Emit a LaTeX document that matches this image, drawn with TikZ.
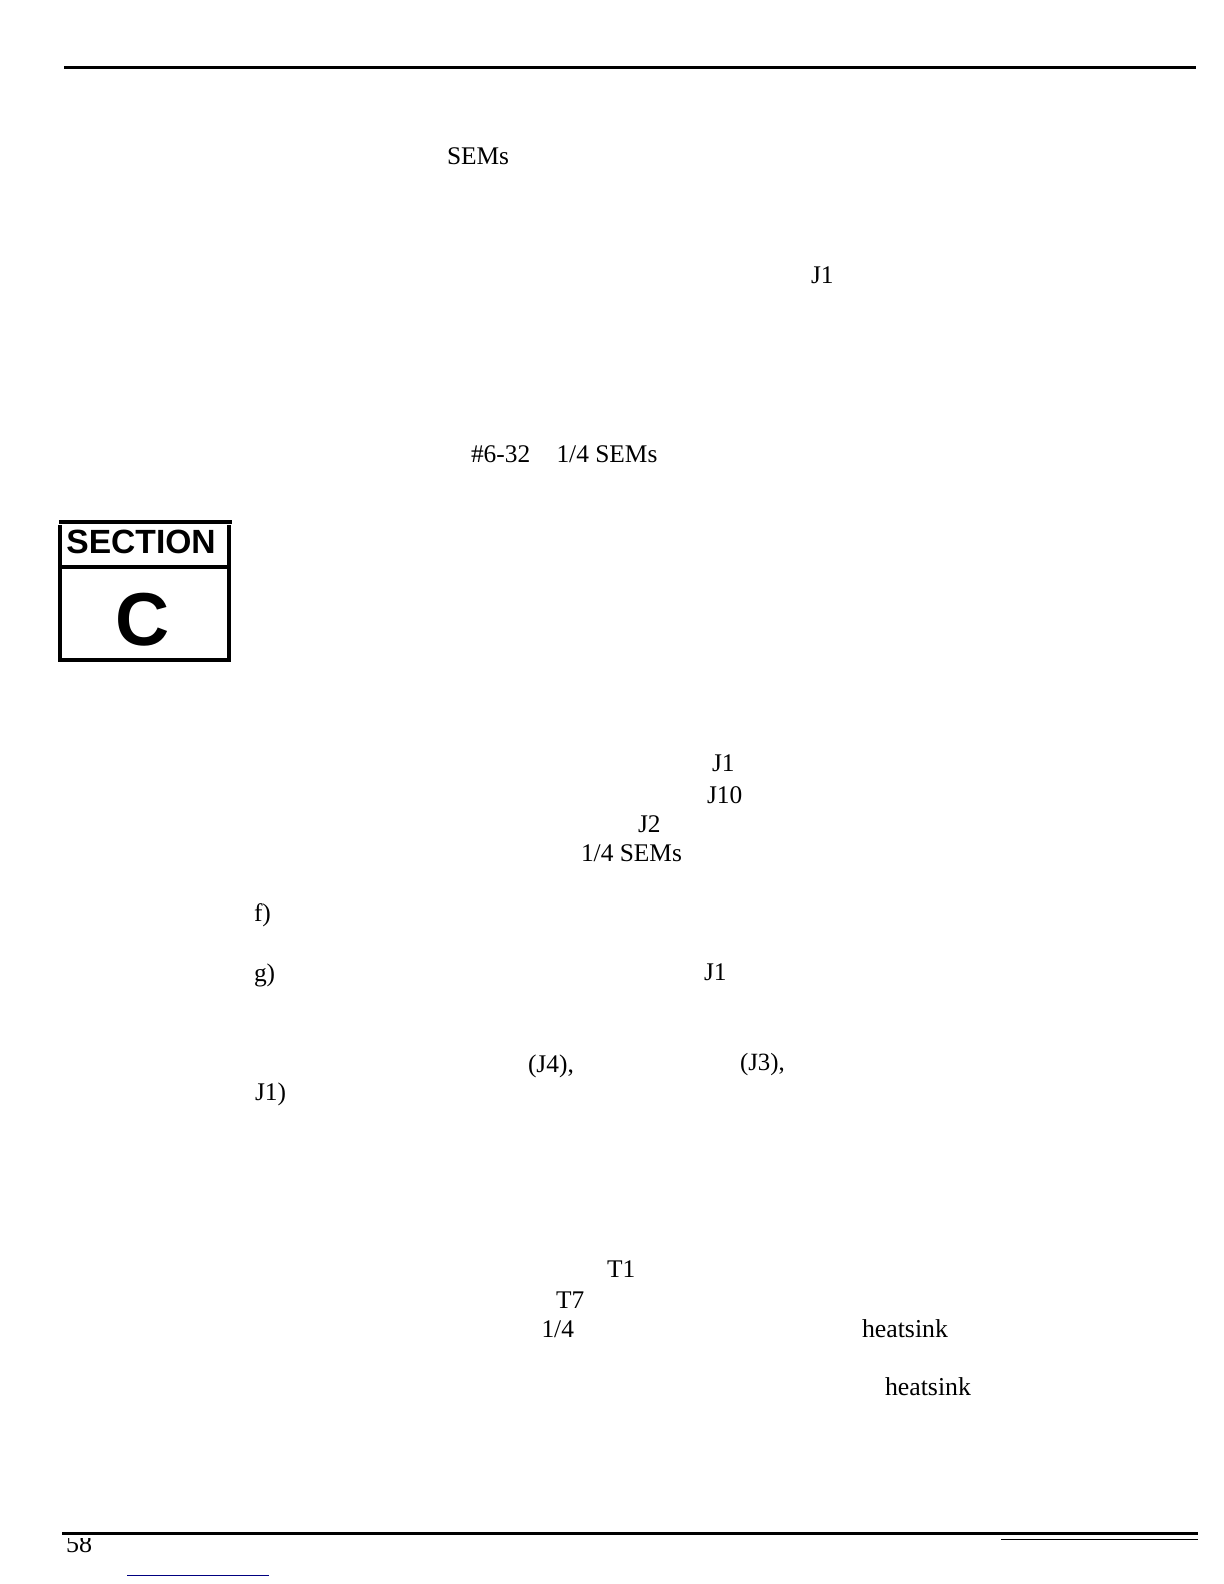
\documentclass[tikz,border=0pt]{standalone}
\usepackage{fontspec}
\setmainfont{Liberation Serif}
\setsansfont{Liberation Sans}
\usetikzlibrary{positioning}
\tikzset{
  pagetext/.style={anchor=base west,inner sep=0,outer sep=0,font=\fontsize{12.7}{14}\selectfont},
  smalltext/.style={pagetext,font=\fontsize{12.4}{13}\selectfont},
  widetext/.style={pagetext,font=\fontsize{12.9}{14}\selectfont},
  rule/.style={line width=1.5pt,line cap=butt},
  boxline/.style={line width=2pt,line cap=butt},
}
\begin{document}
\begin{tikzpicture}[x=0.5pt,y=-0.5pt]
\useasboundingbox (0,0) rectangle (1224,1584);
\draw[rule] (64,67.5) -- (1196,67.5);
\node[pagetext] (sems) at (447,164) {SEMs};
\node[pagetext] (jone) at (811,283) {J1};
\node[pagetext] (screw) at (471,462) {\#6-32};
\node[pagetext] (quarter) at (556.5,462) {1/4 SEMs};
% section box
\draw[boxline] (59,522) -- (232,522);
\draw[boxline] (60,525) -- (60,660) -- (229,660) -- (229,525);
\draw[boxline] (60,567) -- (229,567);
\node[anchor=base west,inner sep=0,font=\sffamily\bfseries\fontsize{16.8}{18}\selectfont] (section) at (66,553) {SECTION};
\node[anchor=base,inner sep=0,font=\sffamily\bfseries\fontsize{37.5}{42}\selectfont] (letter) at (143,645) {C};
% middle
\node[pagetext] (jonea) at (712,771) {J1};
\node[pagetext] (jten) at (707,803) {J10};
\node[pagetext] (jtwo) at (638,832) {J2};
\node[pagetext] (quartera) at (581,861) {1/4 SEMs};
\node[pagetext] (itemf) at (254,921) {f)};
\node[pagetext] (itemg) at (254,981) {g)};
\node[pagetext] (joneb) at (704,980) {J1};
\node[pagetext] (jfour) at (528,1072) {(J4),};
\node[smalltext] (jthree) at (740,1070) {(J3),};
\node[pagetext] (jonec) at (255,1100) {J1)};
% lower
\node[pagetext] (tone) at (607,1277) {T1};
\node[pagetext] (tseven) at (556,1308) {T7};
\node[pagetext] (quarterb) at (541.5,1337) {1/4};
\node[widetext] (heata) at (862,1337) {heatsink};
\node[widetext] (heatb) at (885,1395) {heatsink};
% foot, the number is cut off at its top
\begin{scope}
  \clip (60,1538) rectangle (100,1560);
  \node[pagetext,font=\fontsize{13}{14}\selectfont] (pageno) at (66,1552) {58};
\end{scope}
\draw[rule] (62,1533.5) -- (1198,1533.5);
\draw[line width=0.5pt] (1001,1539) -- (1198,1539);
\draw[line width=0.5pt,blue!50!black] (127,1575) -- (269,1575);
\end{tikzpicture}
\end{document}
